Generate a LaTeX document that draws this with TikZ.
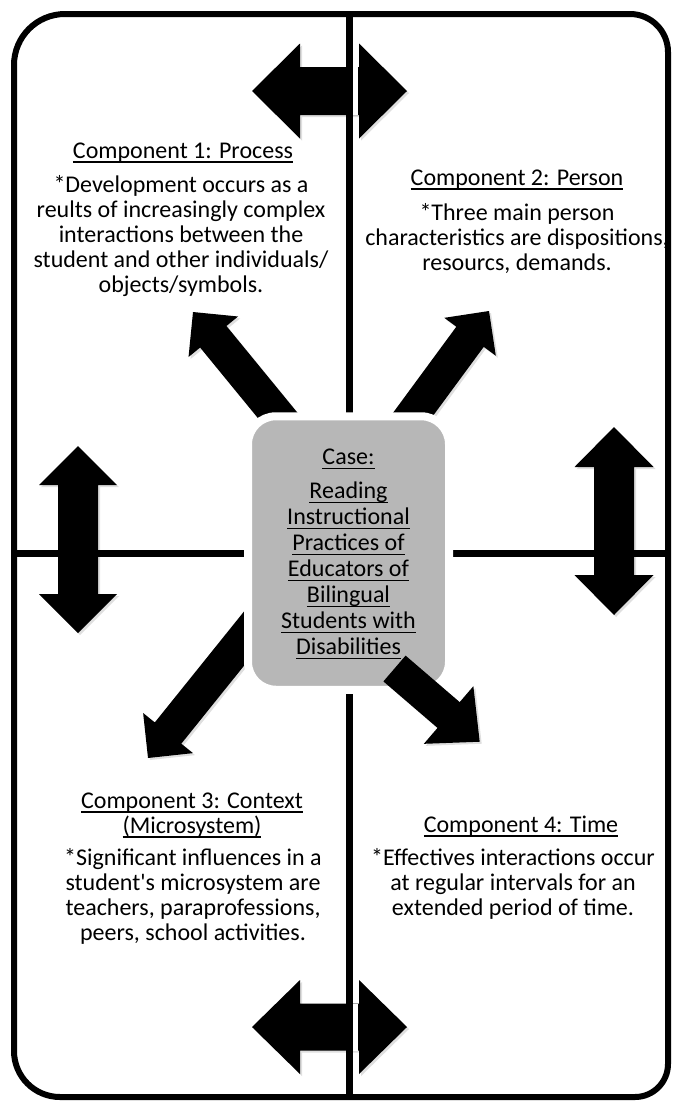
\documentclass[tikz,border=0pt]{standalone}
\usepackage{fontspec}
\setmainfont{Carlito}
\usetikzlibrary{shadows}
\definecolor{boxgray}{RGB}{183,183,183}
\newcommand\ul[1]{\setbox0=\hbox{#1}\rlap{\rule[-4.5pt]{\wd0}{1.4pt}}\box0}
\newcommand\ls{\rule{0pt}{18pt}}
\newcommand\fsz{\fontsize{24}{25}\selectfont\lineskiplimit=-100pt\lineskip=0pt}
\newcommand\csz{\fontsize{24}{26}\selectfont\lineskiplimit=-100pt\lineskip=0pt}
% double block arrow from apex (#1,#2) to apex (#3,#4); shaft half width #5, head half width #6, head length #7
\newcommand\dblarrow[7]{%
  \pgfmathsetmacro\aang{atan2(-((#4)-(#2)),(#3)-(#1))}%
  \pgfmathsetmacro\alen{veclen((#3)-(#1),(#4)-(#2))}%
  \begin{scope}[shift={(#1,#2)},rotate=\aang]
    \fill[arrowfill] (0,0) -- (#7,-#6) -- (#7,-#5) -- (\alen-#7,-#5) -- (\alen-#7,-#6) -- (\alen,0)
      -- (\alen-#7,#6) -- (\alen-#7,#5) -- (#7,#5) -- (#7,#6) -- cycle;
  \end{scope}}
% single block arrow from tail (#1,#2) to apex (#3,#4)
\newcommand\blockarrow[7]{%
  \pgfmathsetmacro\aang{atan2(-((#4)-(#2)),(#3)-(#1))}%
  \pgfmathsetmacro\alen{veclen((#3)-(#1),(#4)-(#2))}%
  \begin{scope}[shift={(#1,#2)},rotate=\aang]
    \fill[arrowfill] (0,-#5) -- (\alen-#7,-#5) -- (\alen-#7,-#6) -- (\alen,0)
      -- (\alen-#7,#6) -- (\alen-#7,#5) -- (0,#5) -- cycle;
  \end{scope}}
\begin{document}
\begin{tikzpicture}[x=1pt,y=-1pt,
  arrowfill/.style={fill=black, drop shadow={shadow xshift=2pt, shadow yshift=-2pt, opacity=0.25}},
  frame/.style={draw=black, line width=6pt, line join=round},
  divider/.style={draw=black, line width=7pt},
  casebox/.style={draw=white, line width=8pt, fill=boxgray, rounded corners=28pt,
    minimum width=201pt, minimum height=273.5pt, inner sep=0pt, align=center, font=\csz},
  txt/.style={inner sep=0pt, outer sep=0pt, align=center, font=\fsz, text=black, anchor=north}]
\useasboundingbox (0,0) rectangle (674,1101);
\fill[white] (0,0) rectangle (674,1101);

% block arrows between quadrants
\dblarrow{252}{91}{407}{91}{24}{47.5}{48}
\dblarrow{252}{1027}{407}{1027}{23.5}{47}{48}
\dblarrow{78}{446}{78}{633}{20}{39}{39}
\dblarrow{614}{427}{614}{615}{20}{39.5}{40}
% diagonal arrows leaving the case (behind the box)
\blockarrow{288}{428}{193}{312}{17}{32}{32}
\blockarrow{400}{432}{489}{311}{17}{32}{32}
\blockarrow{267}{610}{148}{758}{17}{32}{32}

% white gaps beside the divider where it crosses the arrows
\fill[white] (353,67) rectangle (358,115);
\fill[white] (353,1003.5) rectangle (358,1050.5);

% dividers and frame
\draw[divider] (349,14) -- (349,1097);
\draw[divider] (14,553.5) -- (668,553.5);
\draw[frame] (65,14) -- (630,14) arc (-90:0:38) -- (668,1064) arc (0:90:33)
  -- (60,1097) arc (90:180:46) -- (14,65) arc (180:270:51) -- cycle;

% central case box
\node[casebox] (case) at (348.5,553) {\ls\ul{Case:}\\[8pt]\ul{Reading}\\\ul{Instructional}\\\ul{Practices of}\\\ul{Educators of}\\\ul{Bilingual}\\\ul{Students with}\\\ul{Disabilities}};

% arrow drawn over the box
\blockarrow{394.5}{668.5}{480}{742}{17}{38}{41}

% component texts
\node[txt] (h1) at (183,140) {\ls\ul{Component 1: Process}};
\node[txt] (b1) at (181,174) {\ls{}*Development occurs as a\\reults of increasingly complex\\interactions between the\\student and other individuals/\\objects/symbols.};
\node[txt] (h2) at (517,167) {\ls\ul{Component 2: Person}};
\node[txt] (b2) at (517,202) {\ls{}*Three main person\\characteristics are dispositions,\\resourcs, demands.};
\node[txt] (h3) at (192,790) {\ls\ul{Component 3: Context}\\\ul{(Microsystem)}};
\node[txt] (b3) at (193,847) {\ls{}*Significant influences in a\\student\textquotesingle s microsystem are\\teachers, paraprofessions,\\peers, school activities.};
\node[txt] (h4) at (521,814) {\ls\ul{Component 4: Time}};
\node[txt] (b4) at (513,847) {\ls{}*Effectives interactions occur\\at regular intervals for an\\extended period of time.};
\end{tikzpicture}
\end{document}
